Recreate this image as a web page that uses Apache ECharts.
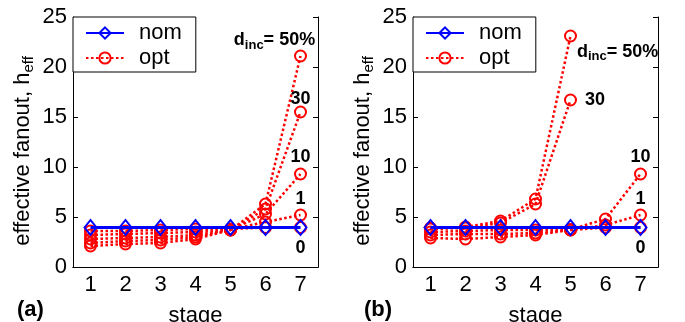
<!DOCTYPE html>
<html><head><meta charset="utf-8">
<script src="https://cdn.jsdelivr.net/npm/echarts@6/dist/echarts.min.js"></script>
<style>html,body{margin:0;padding:0;background:#fff}#c{width:685px;height:322px}</style>
</head><body><div id="c"></div>
<script>
// ---- data ----
const stages = ['1', '2', '3', '4', '5', '6', '7'];
const yMin = 0, yMax = 25, yStep = 5;
const dincNames = ['0', '1', '10', '30', '50%'];

// panel (a)
const nomA   = [3.95, 3.95, 3.95, 3.95, 3.95, 3.95, 3.95];
const optA0  = [3.6, 3.6, 3.7, 3.8, 3.8, 3.95, 3.95];
const optA1  = [3.2, 3.3, 3.4, 3.5, 3.75, 4.5, 5.2];
const optA10 = [2.8, 2.9, 3.0, 3.2, 3.7, 5.3, 9.3];
const optA30 = [2.4, 2.6, 2.7, 3.0, 3.7, 5.8, 15.5];
const optA50 = [2.1, 2.3, 2.4, 2.8, 3.7, 6.3, 21.1];

// panel (b)
const nomB   = [3.95, 3.95, 3.95, 3.95, 3.95, 3.95, 3.95];
const optB0  = [2.9, 2.8, 3.0, 3.2, 3.7, 3.95, 3.95];
const optB1  = [3.2, 3.3, 3.3, 3.4, 3.7, 4.2, 5.2];
const optB10 = [3.5, 3.6, 3.7, 3.7, 3.75, 4.8, 9.3];
const optB30 = [3.8, 3.9, 4.4, 6.3, 16.7, null, null];
const optB50 = [3.9, 4.0, 4.6, 6.8, 23.1, null, null];

// ---- styling / building ----
const FONT = 'Liberation Sans, Arial, sans-serif';
const FS = 22;
const chart = echarts.init(document.getElementById('c'));

const grids = [
  { left: 73, top: 17, width: 245, height: 250, outerBoundsMode: 'none', containLabel: false },
  { left: 413, top: 17, width: 245, height: 250, outerBoundsMode: 'none', containLabel: false }
];

const xAxes = [], yAxes = [];
grids.forEach((g, i) => {
  xAxes.push({
    type: 'category', gridIndex: i, data: stages, position: 'bottom', boundaryGap: true,
    axisLine: { lineStyle: { color: '#000', width: 1 } },
    axisTick: { inside: true, length: 5, alignWithLabel: true, lineStyle: { color: '#000' } },
    axisLabel: { color: '#000', fontSize: FS, fontFamily: FONT, margin: 7 },
    name: 'stage', nameLocation: 'middle', nameGap: 38,
    nameTextStyle: { color: '#000', fontSize: FS, fontFamily: FONT },
    splitLine: { show: false }
  });
  xAxes.push({
    type: 'category', gridIndex: i, data: stages, position: 'top', boundaryGap: true,
    axisLine: { lineStyle: { color: '#000', width: 1 } },
    axisTick: { inside: true, length: 5, alignWithLabel: true, lineStyle: { color: '#000' } },
    axisLabel: { show: false }, splitLine: { show: false }
  });
  yAxes.push({
    type: 'value', gridIndex: i, min: yMin, max: yMax, interval: yStep, position: 'left',
    axisLine: { show: true, lineStyle: { color: '#000', width: 1 } },
    axisTick: { show: true, inside: true, length: 5, lineStyle: { color: '#000' } },
    axisLabel: { color: '#000', fontSize: FS, fontFamily: FONT, margin: 6 },
    splitLine: { show: false },
    name: 'effective fanout, h{s|eff}', nameLocation: 'middle', nameGap: 37, nameRotate: 90,
    nameTextStyle: {
      color: '#000', fontSize: FS, fontFamily: FONT, padding: [0, 18, 0, 0],
      rich: { s: { fontSize: 15, fontFamily: FONT, color: '#000', padding: [11, 0, 0, 0] } }
    }
  });
  yAxes.push({
    type: 'value', gridIndex: i, min: yMin, max: yMax, interval: yStep, position: 'right',
    axisLine: { show: true, lineStyle: { color: '#000', width: 1 } },
    axisTick: { show: true, inside: true, length: 5, lineStyle: { color: '#000' } },
    axisLabel: { show: false }, splitLine: { show: false }
  });
});

const labelRich = {
  d: { fontSize: 18, fontWeight: 'bold', fontFamily: FONT, color: '#000' },
  s: { fontSize: 13, fontWeight: 'bold', fontFamily: FONT, color: '#000', padding: [9, 0, 0, 0] }
};
function labelText(name) {
  return name === '50%' ? '{d|d}{s|inc}{d|= 50%}' : '{d|' + name + '}';
}

// label placements per panel (style only)
const labelPlace = [
  { '0': { position: 'bottom', distance: 5 }, '1': { position: 'top', distance: 0 },
    '10': { position: 'top', distance: 1 }, '30': { position: 'top', distance: -3 },
    '50%': { position: 'top', distance: 4, offset: [-26, 6] } },
  { '0': { position: 'bottom', distance: 5 }, '1': { position: 'top', distance: 0 },
    '10': { position: 'top', distance: 1 }, '30': { position: 'right', distance: 8 },
    '50%': { position: 'right', distance: 0, offset: [0, 16] } }
];

function optSeries(values, dname, panel) {
  let last = -1;
  values.forEach((v, k) => { if (v !== null) last = k; });
  const data = values.map((v, k) => {
    if (k !== last) return v;
    const p = labelPlace[panel][dname];
    return {
      value: v,
      label: Object.assign({ show: true, formatter: labelText(dname), rich: labelRich }, p)
    };
  });
  return {
    type: 'line', name: 'opt', xAxisIndex: panel * 2, yAxisIndex: panel * 2,
    data: data, symbol: 'circle', symbolSize: 11, z: 2,
    lineStyle: { color: '#ff0000', width: 2.5, type: [2.5, 2.5] },
    itemStyle: { color: 'rgba(255,255,255,0)', borderColor: '#ff0000', borderWidth: 2 },
    emphasis: { disabled: true }, animation: false, connectNulls: false
  };
}
function nomSeries(values, panel) {
  return {
    type: 'line', name: 'nom', xAxisIndex: panel * 2, yAxisIndex: panel * 2,
    data: values, symbol: 'diamond', symbolSize: [12, 15], z: 3,
    lineStyle: { color: '#0000ff', width: 3 },
    itemStyle: { color: 'rgba(255,255,255,0)', borderColor: '#0000ff', borderWidth: 2 },
    emphasis: { disabled: true }, animation: false
  };
}

const optsA = [optA0, optA1, optA10, optA30, optA50];
const optsB = [optB0, optB1, optB10, optB30, optB50];
const series = [nomSeries(nomA, 0), nomSeries(nomB, 1)];
optsA.forEach((v, k) => series.push(optSeries(v, dincNames[k], 0)));
optsB.forEach((v, k) => series.push(optSeries(v, dincNames[k], 1)));

const legendBase = {
  orient: 'vertical', top: 17, data: ['nom', 'opt'],
  backgroundColor: '#fff', borderColor: '#000', borderWidth: 1, borderRadius: 0,
  padding: [5, 14, 3, 12], itemGap: 3, itemWidth: 38, itemHeight: 14,
  textStyle: { color: '#000', fontSize: FS, fontFamily: FONT, padding: [0, 0, 0, 10] },
  selectedMode: false
};

chart.setOption({
  animation: false,
  backgroundColor: '#fff',
  grid: grids,
  xAxis: xAxes,
  yAxis: yAxes,
  legend: [
    Object.assign({}, legendBase, { left: 73 }),
    Object.assign({}, legendBase, { left: 413 })
  ],
  graphic: [
    { type: 'text', left: 17, top: 299, style: { text: '(a)', fontSize: FS, fontWeight: 'bold', fontFamily: FONT, fill: '#000' } },
    { type: 'text', left: 364, top: 299, style: { text: '(b)', fontSize: FS, fontWeight: 'bold', fontFamily: FONT, fill: '#000' } }
  ],
  series: series
});
</script>
</body></html>
